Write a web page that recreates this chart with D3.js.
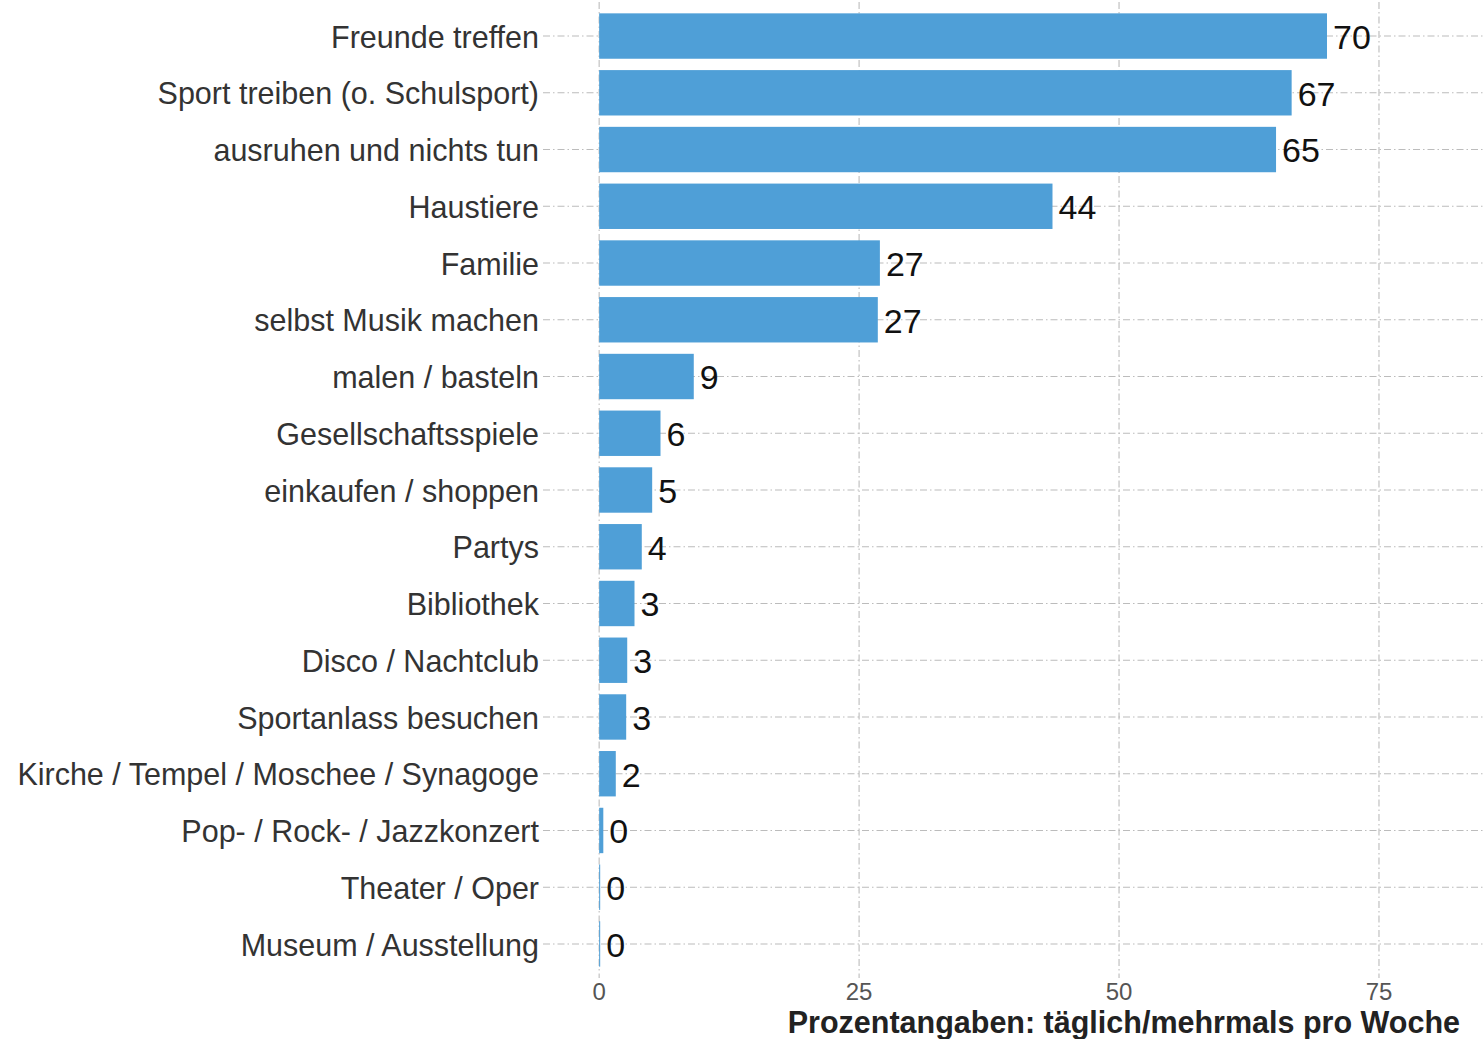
<!DOCTYPE html>
<html>
<head>
<meta charset="utf-8">
<script src="https://cdn.jsdelivr.net/npm/d3@7"></script>
<style>
  body { margin: 0; background: #fff; }
  svg { display: block; font-family: "Liberation Sans", Arial, sans-serif; }
</style>
</head>
<body>
<svg id="chart"></svg>
<script>
// activities, top to bottom
const categories = [
  "Freunde treffen", "Sport treiben (o. Schulsport)", "ausruhen und nichts tun",
  "Haustiere", "Familie", "selbst Musik machen", "malen / basteln",
  "Gesellschaftsspiele", "einkaufen / shoppen", "Partys", "Bibliothek",
  "Disco / Nachtclub", "Sportanlass besuchen", "Kirche / Tempel / Moschee / Synagoge",
  "Pop- / Rock- / Jazzkonzert", "Theater / Oper", "Museum / Ausstellung"
];
const values = [70.0, 66.6, 65.1, 43.6, 27.0, 26.8, 9.1, 5.9, 5.1, 4.1, 3.4, 2.7, 2.6, 1.6, 0.4, 0.1, 0.1];
const xTicks = [0, 25, 50, 75];
const xTitle = "Prozentangaben: täglich/mehrmals pro Woche";

const width = 1484, height = 1039;
const svg = d3.select("#chart").attr("width", width).attr("height", height);

const x = d3.scaleLinear().domain([-5.4, 85.1]).range([543, 1484]);
const y = d3.scaleBand().domain(categories).range([2, 978])
  .paddingInner(0.2).paddingOuter(0.2);

const grid = svg.append("g").attr("class", "grid")
  .attr("stroke", "#bcbcbc").attr("stroke-width", 1.1)
  .attr("stroke-dasharray", "7,3,1.5,3");

grid.selectAll("line.v")
  .data(xTicks)
  .join("line").attr("class", "v")
  .attr("x1", d => x(d)).attr("x2", d => x(d))
  .attr("y1", 2).attr("y2", 978);

grid.selectAll("line.h")
  .data(categories)
  .join("line").attr("class", "h")
  .attr("x1", 543).attr("x2", 1484)
  .attr("y1", d => y(d) + y.bandwidth() / 2)
  .attr("y2", d => y(d) + y.bandwidth() / 2);

svg.append("g").selectAll("rect")
  .data(values)
  .join("rect")
  .attr("x", x(0))
  .attr("y", (d, i) => y(categories[i]))
  .attr("width", d => x(d) - x(0))
  .attr("height", y.bandwidth())
  .attr("fill", "#4f9fd7");

svg.append("g").selectAll("text")
  .data(values)
  .join("text")
  .attr("x", d => x(d) + 6)
  .attr("y", (d, i) => y(categories[i]) + y.bandwidth() / 2)
  .attr("dy", "0.38em")
  .attr("font-size", 34)
  .attr("fill", "#111")
  .text(d => Math.round(d));

// category labels
svg.append("g").selectAll("text")
  .data(categories)
  .join("text")
  .attr("x", 539)
  .attr("y", d => y(d) + y.bandwidth() / 2)
  .attr("dy", "0.38em")
  .attr("text-anchor", "end")
  .attr("font-size", 30.5)
  .attr("fill", "#333")
  .text(d => d);

// x axis tick labels
svg.append("g").selectAll("text")
  .data(xTicks)
  .join("text")
  .attr("x", d => x(d))
  .attr("y", 1000)
  .attr("text-anchor", "middle")
  .attr("font-size", 24)
  .attr("fill", "#555")
  .text(d => d);

svg.append("text")
  .attr("x", 1460)
  .attr("y", 1033)
  .attr("text-anchor", "end")
  .attr("font-size", 30.5)
  .attr("font-weight", "bold")
  .attr("fill", "#222")
  .text(xTitle);
</script>
</body>
</html>
